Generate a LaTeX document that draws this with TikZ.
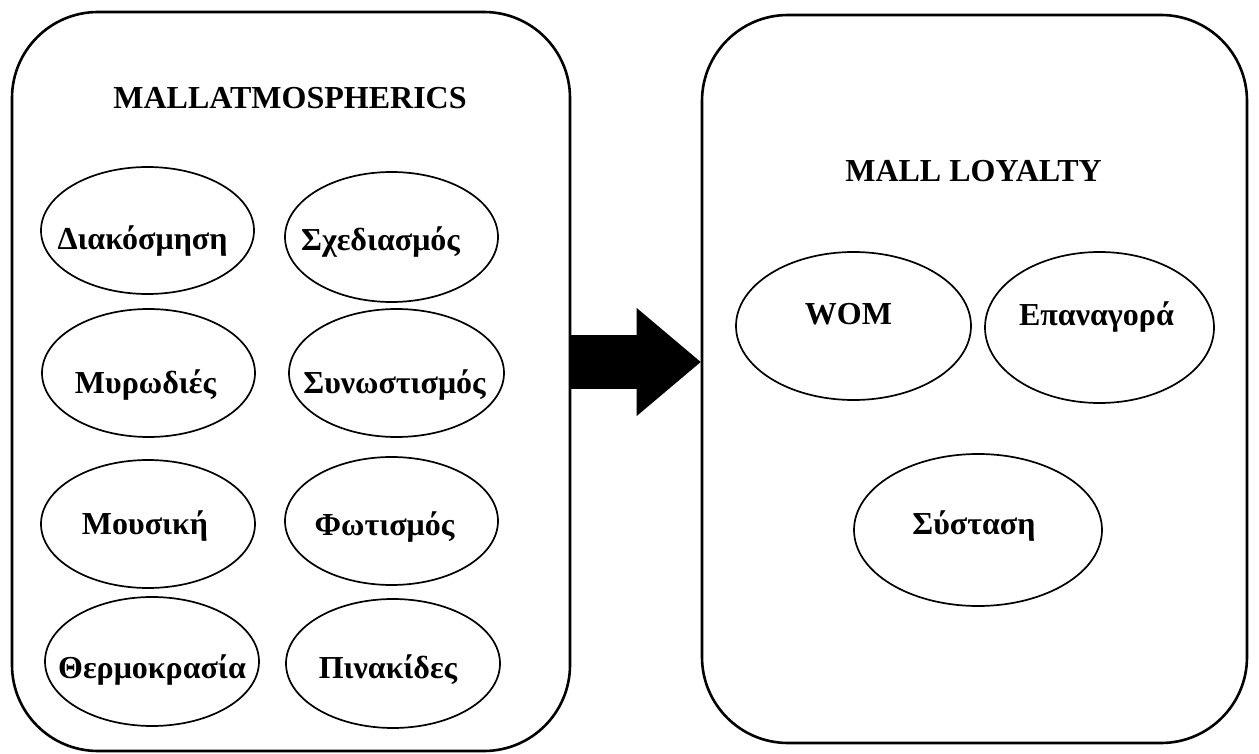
\documentclass[tikz,border=0pt]{standalone}
\usepackage{fontspec}
\setmainfont{Liberation Serif}
\usetikzlibrary{arrows.meta,shapes.geometric}
% text that does not widen its ellipse; optional horizontal nudge
\newcommand{\inell}[2][0pt]{\makebox[0pt]{\kern#1 #2\kern-#1}}

\begin{document}
\begin{tikzpicture}[x=0.5pt, y=-0.5pt,
  every node/.style={font=\fontsize{16pt}{19pt}\selectfont\bfseries, text height=10.6pt, text depth=0pt},
  panel/.style={draw, line width=1.3pt, rounded corners=43pt},
  ell/.style={draw, ellipse, line width=0.85pt, inner sep=0pt},
  drop/.style={text height=#1},
  lift/.style={text depth=#1},
  bigarrow/.style={line width=27pt, -{Triangle[length=32pt, width=54pt, line width=0pt]}}]
  \useasboundingbox (0,0) rectangle (1259,754);

  % the two panels
  \node[panel, minimum width=279pt, minimum height=369.5pt] (atmo) at (291,381.5) {};
  \node[panel, minimum width=272.5pt, minimum height=364pt] (loyal) at (974.5,379) {};
  \node (atmotitle) at (290,97.5) {MALLATMOSPHERICS};
  \node (loyaltitle) at (973.5,170.5) {MALL LOYALTY};

  % atmospherics
  \node[ell, drop=18.6pt, minimum width=106.5pt, minimum height=63.5pt] (diak) at (147.5,230.5) {\inell[-2.5pt]{Διακόσμηση}};
  \node[ell, drop=13.6pt, minimum width=106.5pt, minimum height=65pt] (sxed) at (391.5,237) {\inell[-5.5pt]{Σχεδιασμός}};
  \node[ell, drop=20.6pt, minimum width=106.5pt, minimum height=64pt] (myro) at (148.5,373) {\inell[-1.5pt]{Μυρωδιές}};
  \node[ell, drop=20.6pt, minimum width=107.5pt, minimum height=64pt] (synw) at (396.5,373) {\inell[-1pt]{Συνωστισμός}};
  \node[ell, minimum width=107pt, minimum height=64pt] (mous) at (148,524) {\inell[-1.5pt]{Μουσική}};
  \node[ell, drop=14.1pt, minimum width=106.5pt, minimum height=64pt] (fwti) at (391.5,521) {\inell[-3.5pt]{Φωτισμός}};
  \node[ell, drop=16.6pt, minimum width=107pt, minimum height=64.5pt] (therm) at (152,661.5) {\inell{Θερμοκρασία}};
  \node[ell, drop=14.6pt, minimum width=107pt, minimum height=64.5pt] (pinak) at (393,663.5) {\inell[-2.5pt]{Πινακίδες}};

  % loyalty
  \node[ell, lift=12pt, minimum width=117.5pt, minimum height=74pt] (wom) at (853.5,326) {\inell[-2.5pt]{WOM}};
  \node[ell, lift=13pt, minimum width=114.5pt, minimum height=75.5pt] (epan) at (1099.5,327.5) {\inell[-1.5pt]{Επαναγορά}};
  \node[ell, lift=6pt, minimum width=124pt, minimum height=76pt] (syst) at (978,530) {\inell[-2pt]{Σύσταση}};

  \coordinate (arrowrow) at (0,362);
  \draw[bigarrow] (atmo.east |- arrowrow) -- (loyal.west |- arrowrow);
\end{tikzpicture}
\end{document}
